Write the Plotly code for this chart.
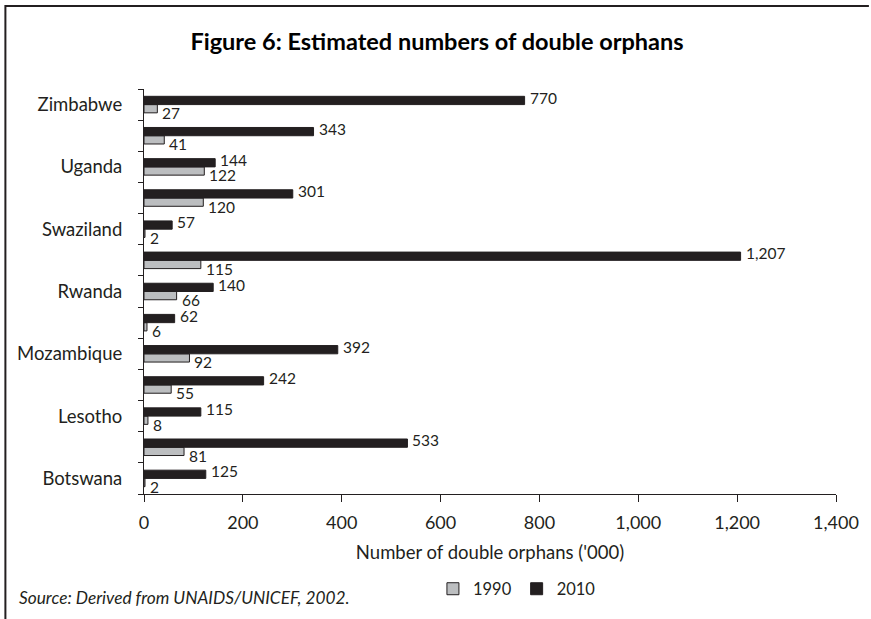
import plotly.graph_objects as go

# Countries, bottom to top
countries = ["Botswana", "Kenya", "Lesotho", "Malawi", "Mozambique", "Namibia",
             "Rwanda", "South Africa", "Swaziland", "Tanzania", "Uganda",
             "Zambia", "Zimbabwe"]
# Only every other country name is printed on the axis
axis_labels = ["Botswana", "", "Lesotho", "", "Mozambique", "",
               "Rwanda", "", "Swaziland", "", "Uganda", "", "Zimbabwe"]

# Estimated double orphans ('000)
orphans_1990 = [2, 81, 8, 55, 92, 6, 66, 115, 2, 120, 122, 41, 27]
orphans_2010 = [125, 533, 115, 242, 392, 62, 140, 1207, 57, 301, 144, 343, 770]

x_ticks = [0, 200, 400, 600, 800, 1000, 1200, 1400]

INK = "#231f20"
GREY = "#bcbec0"
FONT = "Lato, 'Open Sans', sans-serif"

fig = go.Figure()
fig.add_trace(go.Bar(
    name="1990", y=countries, x=orphans_1990, orientation="h",
    marker=dict(color=GREY, line=dict(color=INK, width=1)),
))
fig.add_trace(go.Bar(
    name="2010", y=countries, x=orphans_2010, orientation="h",
    marker=dict(color=INK, line=dict(color=INK, width=1)),
))

# plot area geometry in pixels (used to place frame & notes in paper units)
W, H = 871, 619
L, R, T, B = 144, 33, 89, 125
pw, ph = W - L - R, H - T - B


def px_x(x):
    return (x - L) / pw


def px_y(y):
    return (H - B - y) / ph


# value labels: 2010 sits just above its bar, 1990 just below its bar
value_labels = []
for country, v90, v10 in zip(countries, orphans_1990, orphans_2010):
    for val, shift in ((v10, 7), (v90, -8.5)):
        value_labels.append(dict(
            x=val, y=country, xref="x", yref="y", text=f"{val:,}",
            xanchor="left", yanchor="middle", xshift=3, yshift=shift,
            showarrow=False, font=dict(size=15.5, color=INK, family=FONT)))

source_note = dict(
    text="<i>Source: Derived from UNAIDS/UNICEF, 2002.</i>",
    xref="paper", yref="paper", x=px_x(17), y=px_y(597),
    xanchor="left", yanchor="middle", showarrow=False,
    font=dict(size=17.3, color=INK))

fig.update_layout(
    width=W, height=H,
    margin=dict(l=L, r=R, t=T, b=B),
    paper_bgcolor="white", plot_bgcolor="white",
    barmode="group", bargap=0.47, bargroupgap=0,
    font=dict(family=FONT, color=INK, size=17),
    title=dict(text="<b>Figure 6: Estimated numbers of double orphans</b>",
               x=437 / W, xanchor="center", y=1 - 42 / H, yanchor="middle",
               font=dict(size=23.5, family=FONT, color="#000000")),
    showlegend=True,
    legend=dict(orientation="h", x=px_x(518), xanchor="center",
                y=px_y(589), yanchor="middle", font=dict(size=16.5),
                itemwidth=30, traceorder="normal"),
    xaxis=dict(range=[0, 1400], tickvals=x_ticks, tickformat=",",
               showgrid=False, zeroline=False, showline=True,
               linecolor=INK, linewidth=1, ticks="outside", ticklen=7,
               tickcolor=INK, tickfont=dict(size=18),
               ticklabelstandoff=5,
               title=dict(text="Number of double orphans ('000)",
                          font=dict(size=18.5), standoff=14)),
    yaxis=dict(tickmode="array", tickvals=countries, ticktext=axis_labels,
               tickson="boundaries", showgrid=False, zeroline=False,
               showline=True, linecolor=INK, linewidth=1,
               ticks="outside", ticklen=5, tickcolor=INK,
               tickfont=dict(size=18.5), ticklabelstandoff=17,
               range=[-0.5, len(countries) - 0.5]),
    annotations=value_labels + [source_note],
    shapes=[dict(
        type="path", xref="paper", yref="paper",
        path=f"M {px_x(5)} {px_y(H)} L {px_x(5)} {px_y(6)} L {px_x(W)} {px_y(6)}",
        line=dict(color=INK, width=2))],
)

fig.write_html("out.html")
